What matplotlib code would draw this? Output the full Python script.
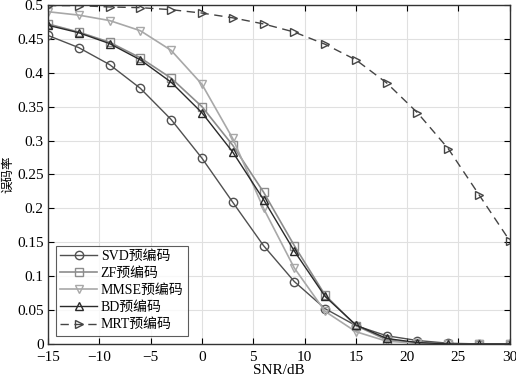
import matplotlib
matplotlib.use("Agg")
import matplotlib.pyplot as plt
import numpy as np

plt.rcParams['font.family'] = ['Liberation Serif', 'Noto Sans CJK SC']

snr = [-15, -12, -9, -6, -3, 0, 3, 6, 9, 12, 15, 18, 21, 24, 27, 30]
svd = [0.455, 0.437, 0.412, 0.377, 0.331, 0.274, 0.209, 0.145, 0.092, 0.052, 0.027, 0.012, 0.005, 0.001, 0.0, 0.0]
zf = [0.472, 0.460, 0.445, 0.422, 0.392, 0.350, 0.293, 0.224, 0.145, 0.072, 0.027, 0.006, 0.001, 0.0, 0.0, 0.0]
mmse = [0.490, 0.485, 0.477, 0.462, 0.433, 0.383, 0.303, 0.200, 0.112, 0.048, 0.018, 0.004, 0.001, 0.0, 0.0, 0.0]
bd = [0.470, 0.459, 0.443, 0.419, 0.386, 0.341, 0.283, 0.213, 0.137, 0.070, 0.028, 0.008, 0.002, 0.0, 0.0, 0.0]
mrt = [0.499, 0.499, 0.497, 0.496, 0.493, 0.488, 0.481, 0.472, 0.460, 0.442, 0.419, 0.385, 0.341, 0.288, 0.220, 0.152]
xticks = [-15, -10, -5, 0, 5, 10, 15, 20, 25, 30]
yticks = ['0', '0.05', '0.1', '0.15', '0.2', '0.25', '0.3', '0.35', '0.4', '0.45', '0.5']

fig = plt.figure(figsize=(5.16, 3.8), dpi=100)
ax = fig.add_axes([0.093, 0.095, 0.895, 0.892])

ms = 6
ax.plot(snr, svd, '-o', color='#505050', mfc='none', ms=ms, lw=1.0, label='SVD预编码')
ax.plot(snr, zf, '-s', color='#8c8c8c', mfc='none', ms=ms, lw=1.2, label='ZF预编码')
ax.plot(snr, mmse, '-v', color='#a8a8a8', mfc='none', ms=ms, lw=1.2, label='MMSE预编码')
ax.plot(snr, bd, '-^', color='#2a2a2a', mfc='none', ms=ms, lw=1.0, label='BD预编码')
ax.plot(snr, mrt, '-->', color='#444444', mfc='none', ms=ms, lw=1.0,
        dashes=(6, 4), label='MRT预编码')

ax.set_xlim(-15, 30)
ax.set_ylim(0, 0.5)
ax.set_xticks(xticks)
ax.set_xticklabels([str(v).replace('-', '\u2212') for v in xticks])
ax.set_yticks(np.linspace(0, 0.5, len(yticks)))
ax.set_yticklabels(yticks)
ax.tick_params(direction='in', labelsize=11, top=True, right=True, length=4)
ax.tick_params(axis='x', pad=5)
ax.tick_params(axis='y', pad=3)
ax.grid(True, color='#e0e0e0', lw=0.8)
for s in ax.spines.values():
    s.set_color('#333333')
    s.set_linewidth(1.0)

ax.set_xlabel('SNR/dB', fontsize=11, labelpad=0)
ax.set_ylabel('误码率', fontsize=9, labelpad=2)

leg = ax.legend(loc='lower left', fontsize=10, frameon=True, fancybox=False,
                borderaxespad=0.6, handlelength=2.6, handletextpad=0.3,
                labelspacing=0.3, borderpad=0.3)
leg.get_frame().set_edgecolor('#333333')
leg.get_frame().set_linewidth(0.8)

fig.savefig('out.png', dpi=100)
